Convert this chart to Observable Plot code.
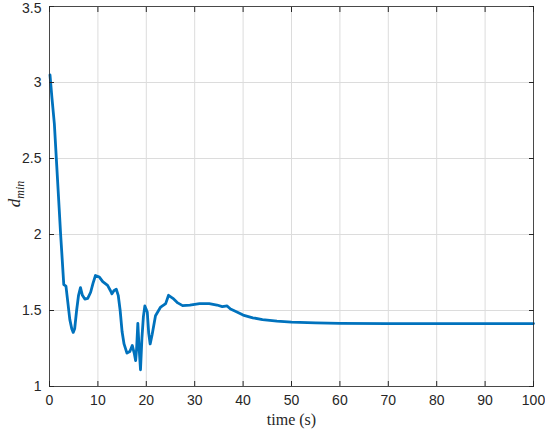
<!DOCTYPE html>
<html>
<head>
<meta charset="utf-8">
<script src="https://cdn.jsdelivr.net/npm/d3@7"></script>
<script src="https://cdn.jsdelivr.net/npm/@observablehq/plot@0.6"></script>
<style>
  html, body { margin: 0; padding: 0; background: #fff; }
  #chart { position: relative; width: 545px; height: 432px; }
  .ylab { position: absolute; left: -10px; top: 182px; width: 50px; height: 24px; text-align: center;
          font-family: "Liberation Serif", "DejaVu Serif", serif; font-style: italic; font-size: 17px; line-height: 24px;
          transform: rotate(-90deg); transform-origin: center; color: #262626; white-space: nowrap; }
</style>
</head>
<body>
<div id="chart"></div>
<script>
const time = [0.1, 0.5, 1.0, 1.5, 2.0, 2.3, 2.6, 2.95, 3.4, 3.8, 4.2, 4.6, 4.9, 5.2, 5.6, 6.0, 6.4, 6.8, 7.3, 7.9, 8.5, 9.0, 9.5, 10.3, 11.0, 12.0, 12.6, 12.9, 13.3, 13.8, 14.2, 14.6, 15.0, 15.4, 16.0, 16.6, 17.1, 17.5, 17.8, 18.0, 18.25, 18.5, 18.8, 19.1, 19.4, 19.7, 20.2, 20.5, 20.8, 21.2, 21.9, 22.9, 24.0, 24.6, 25.5, 26.5, 27.5, 29, 31, 33, 34.6, 35.7, 36.7, 37.4, 38.4, 40, 42, 44, 47, 50, 55, 60, 70, 80, 90, 100];
const dmin = [3.05, 2.9, 2.73, 2.45, 2.17, 2.0, 1.85, 1.67, 1.66, 1.55, 1.44, 1.38, 1.356, 1.38, 1.5, 1.6, 1.65, 1.6, 1.575, 1.58, 1.62, 1.68, 1.73, 1.72, 1.69, 1.665, 1.63, 1.61, 1.63, 1.64, 1.6, 1.5, 1.36, 1.28, 1.22, 1.23, 1.27, 1.22, 1.17, 1.25, 1.415, 1.26, 1.11, 1.32, 1.46, 1.53, 1.49, 1.35, 1.28, 1.34, 1.466, 1.52, 1.545, 1.6, 1.58, 1.55, 1.532, 1.535, 1.545, 1.545, 1.536, 1.525, 1.53, 1.51, 1.495, 1.47, 1.452, 1.44, 1.43, 1.424, 1.418, 1.415, 1.414, 1.414, 1.414, 1.414];
const xTicks = [0, 10, 20, 30, 40, 50, 60, 70, 80, 90, 100];
const yTicks = [1, 1.5, 2, 2.5, 3, 3.5];
const yTickLabels = ["1", "1.5", "2", "2.5", "3", "3.5"];

const data = time.map((t, i) => ({t, d: dmin[i]}));
const axisColor = "#262626";
const lowerY = yTicks.slice(0, -1);
const topY = yTicks.slice(-1);
const labelOf = d => yTickLabels[yTicks.indexOf(d)];

const plot = Plot.plot({
  width: 545,
  height: 432,
  marginLeft: 49,
  marginRight: 12,
  marginTop: 6,
  marginBottom: 46,
  style: {fontFamily: "'Liberation Sans', Arial, sans-serif", fontSize: "14px", color: axisColor, background: "#fff"},
  x: {domain: [0, 100]},
  y: {domain: [1, 3.5]},
  marks: [
    Plot.gridX(xTicks, {stroke: "#dcdcdc", strokeOpacity: 1, strokeWidth: 1}),
    Plot.gridY(yTicks, {stroke: "#dcdcdc", strokeOpacity: 1, strokeWidth: 1}),
    Plot.line(data, {x: "t", y: "d", stroke: "#0072BD", strokeWidth: 2.8, strokeLinejoin: "round", strokeLinecap: "round"}),
    Plot.frame({stroke: axisColor, strokeWidth: 0.8}),
    Plot.axisX(xTicks, {anchor: "bottom", tickSize: 0, tickPadding: 9, fontSize: 14, label: null}),
    Plot.axisX(xTicks, {anchor: "bottom", tickSize: -5, tickFormat: () => "", label: null, stroke: axisColor}),
    Plot.axisX(xTicks, {anchor: "top", tickSize: -5, tickFormat: () => "", label: null, stroke: axisColor}),
    Plot.axisY(lowerY, {anchor: "left", tickSize: 0, tickPadding: 8, fontSize: 14, label: null, tickFormat: labelOf}),
    Plot.axisY(topY, {anchor: "left", tickSize: 0, tickPadding: 8, fontSize: 14, label: null, tickFormat: labelOf, dy: 2}),
    Plot.axisY(yTicks, {anchor: "left", tickSize: -5, tickFormat: () => "", label: null, stroke: axisColor}),
    Plot.axisY(yTicks, {anchor: "right", tickSize: -5, tickFormat: () => "", label: null, stroke: axisColor}),
    Plot.text(["time (s)"], {frameAnchor: "bottom", dy: 38, text: d => d, fontFamily: "'Liberation Serif', 'DejaVu Serif', serif", fontSize: 16, fill: axisColor})
  ]
});
const chart = document.getElementById("chart");
chart.appendChild(plot);
const yl = document.createElement("div");
yl.className = "ylab";
yl.innerHTML = "d<sub style='font-size:12px'>min</sub>";
chart.appendChild(yl);
</script>
</body>
</html>
